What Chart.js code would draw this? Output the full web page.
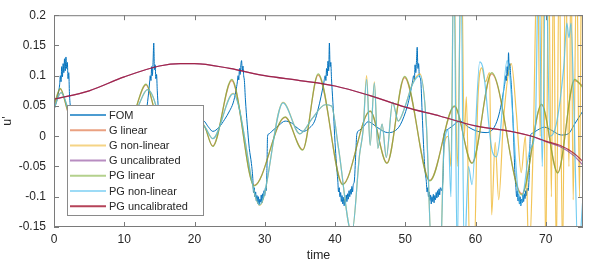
<!DOCTYPE html>
<html>
<head>
<meta charset="utf-8">
<script src="https://cdn.jsdelivr.net/npm/chart.js@4.4.0/dist/chart.umd.min.js"></script>
<style>
  html, body { margin: 0; padding: 0; background: #fff; }
</style>
</head>
<body>
<canvas id="chart" width="598" height="261"></canvas>
<script>
// axis ticks
const xTicks = [0, 10, 20, 30, 40, 50, 60, 70];
const yTicks = [0.2, 0.15, 0.1, 0.05, 0, -0.05, -0.1, -0.15];
const yTickLabels = ["0.2", "0.15", "0.1", "0.05", "0", "-0.05", "-0.1", "-0.15"];

const seriesNames = ["FOM", "G linear", "G non-linear", "G uncalibrated", "PG linear", "PG non-linear", "PG uncalibrated"];

// FOM (noisy full order model)
const fomTime = [
  0, 0.3, 0.6, 0.8, 0.9, 1.0, 1.1, 1.2, 1.3, 1.4, 1.5, 1.6, 1.7, 1.8, 1.9, 2.0, 2.1, 2.2, 2.35, 2.6,
  3.0, 3.5, 3.8, 4.0, 4.2, 4.4, 4.6, 4.8, 5.0, 5.5, 6.0, 7.0, 8.0, 9.0, 10.0, 11.0, 12.0, 12.7, 13.2,
  13.45, 13.6, 13.7, 13.8, 13.9, 14.0, 14.1, 14.2, 14.3, 14.4, 14.5, 14.6, 14.7, 14.85,
  15.1, 15.5, 15.9, 16.1, 16.3, 16.5, 16.7, 16.9, 17.1, 17.3, 17.6, 18.0, 18.5, 19.5, 20.5,
  21.2, 22.0, 22.6, 23.5, 24.3, 25.0, 25.5,
  25.9, 26.1, 26.2, 26.3, 26.4, 26.5, 26.6, 26.7, 26.8, 26.9, 27.0, 27.1, 27.25,
  27.5, 27.8, 28.1, 28.3, 28.4, 28.5, 28.6, 28.7, 28.8, 28.9, 29.0, 29.1, 29.2, 29.3, 29.4, 29.5, 29.6, 29.7, 29.8, 29.9, 30.0, 30.1, 30.2, 30.3, 30.4,
  30.6, 31.0, 32.0, 32.9, 33.8, 34.6, 35.5, 36.4, 37.1, 37.6, 38.0, 38.4,
  38.6, 38.7, 38.8, 38.9, 39.0, 39.1, 39.2, 39.3, 39.4, 39.5, 39.6,
  39.8, 40.0, 40.2, 40.4, 40.5, 40.6, 40.7, 40.8, 40.9, 41.0, 41.1, 41.2, 41.3, 41.4, 41.5, 41.6, 41.7, 41.8, 41.9, 42.0, 42.1, 42.2, 42.3, 42.4, 42.5, 42.6, 42.75, 42.95, 43.1,
  43.5, 44.0, 44.7, 45.4, 46.1, 47.5, 48.4, 49.3, 50.3, 50.7, 51.0,
  51.2, 51.3, 51.4, 51.5, 51.6, 51.7, 51.8, 51.9, 52.0, 52.2,
  52.4, 52.6, 52.8, 53.0, 53.1, 53.2, 53.3, 53.4, 53.5, 53.6, 53.7, 53.8, 53.9, 54.0, 54.1, 54.2, 54.3, 54.4, 54.5, 54.6, 54.7, 54.8, 54.9, 55.0, 55.2, 55.4, 55.55,
  55.8, 56.5, 57.8, 59.0, 60.3, 61.5, 62.5, 63.2, 63.7, 64.0, 64.2,
  64.3, 64.4, 64.5, 64.6, 64.7, 64.8, 64.9, 65.0, 65.1,
  65.25, 65.45, 65.6, 65.75, 65.85, 65.95, 66.05, 66.15, 66.25, 66.35, 66.45, 66.55, 66.65, 66.75, 66.85, 66.95, 67.05, 67.15, 67.25, 67.35, 67.5, 67.65, 67.8,
  68.1, 68.8, 69.8, 70.8, 72.2, 73.2, 74.1, 75.3
];
const fomValues = [
  0.044, 0.055, 0.07, 0.085, 0.1, 0.09, 0.115, 0.098, 0.12, 0.105, 0.128, 0.108, 0.131, 0.112, 0.122, 0.095, 0.105, 0.07, 0.045, 0.0,
  -0.05, -0.085, -0.095, -0.105, -0.095, -0.11, -0.098, -0.104, -0.09, -0.05, -0.01, 0.01, 0.005, 0.015, 0.01, 0.02, 0.025, 0.035, 0.047,
  0.07, 0.088, 0.1, 0.092, 0.115, 0.1, 0.122, 0.154, 0.11, 0.118, 0.095, 0.102, 0.075, 0.045,
  0.0, -0.05, -0.085, -0.1, -0.092, -0.108, -0.097, -0.11, -0.095, -0.102, -0.085, -0.05, -0.01, 0.012, 0.02,
  0.026, 0.015, 0.008, 0.015, 0.028, 0.042, 0.055,
  0.075, 0.09, 0.1, 0.093, 0.112, 0.102, 0.118, 0.125, 0.108, 0.116, 0.1, 0.092, 0.06,
  0.02, -0.02, -0.045, -0.07, -0.093, -0.085, -0.1, -0.092, -0.107, -0.098, -0.111, -0.1, -0.114, -0.104, -0.109, -0.097, -0.11, -0.095, -0.104, -0.09, -0.098, -0.085, -0.09, -0.06, 0.0,
  0.004, 0.008, 0.018, 0.025, 0.022, 0.014, 0.008, 0.014, 0.025, 0.045, 0.065, 0.088,
  0.1, 0.092, 0.112, 0.1, 0.124, 0.108, 0.154, 0.115, 0.122, 0.095, 0.075,
  0.035, -0.01, -0.045, -0.074, -0.092, -0.085, -0.1, -0.093, -0.108, -0.098, -0.112, -0.101, -0.115, -0.104, -0.11, -0.097, -0.108, -0.095, -0.104, -0.09, -0.1, -0.088, -0.096, -0.083, -0.092, -0.08, -0.074, -0.03, 0.003,
  0.01, 0.015, 0.024, 0.02, 0.014, 0.006, 0.008, 0.019, 0.05, 0.07, 0.088,
  0.1, 0.093, 0.118, 0.105, 0.125, 0.147, 0.112, 0.12, 0.1, 0.093,
  0.04, -0.014, -0.055, -0.075, -0.092, -0.085, -0.1, -0.092, -0.106, -0.097, -0.112, -0.1, -0.108, -0.096, -0.11, -0.098, -0.105, -0.093, -0.102, -0.09, -0.1, -0.087, -0.097, -0.085, -0.09, -0.06, 0.005,
  0.01, 0.015, 0.025, 0.015, 0.008, 0.006, 0.012, 0.03, 0.055, 0.075, 0.09,
  0.1, 0.092, 0.115, 0.1, 0.138, 0.11, 0.12, 0.1, 0.085,
  0.05, -0.01, -0.06, -0.085, -0.1, -0.09, -0.107, -0.096, -0.112, -0.1, -0.115, -0.104, -0.11, -0.097, -0.108, -0.095, -0.103, -0.09, -0.098, -0.086, -0.09, -0.06, 0.0,
  0.005, 0.01, 0.015, 0.01, 0.002, 0.004, 0.02, 0.042
];

// linear models
const linTime = [0, 0.9, 1.8, 3.5, 5.5, 8, 9.5, 10.5, 11.7, 13.1, 14.2, 16, 17.5, 19.5, 21.2, 22.6, 25.3, 28.5, 32.9, 35.4,
  37.6, 41.1, 45.0, 47.4, 49.9, 53.5, 57.0, 59.5, 62.3, 66.6, 69.4, 71.7, 74.1, 75.3];
const gLinear = [0.05, 0.078, 0.047, -0.03, -0.084, -0.02, 0.01, -0.004, 0.047, 0.085, 0.047, -0.04, -0.069, -0.01, 0.019, -0.016, 0.092, -0.081, 0.031, -0.022,
  0.101, -0.079, 0.041, -0.044, 0.097, -0.073, 0.049, -0.044, 0.103, -0.095, 0.052, -0.06, 0.092, 0.083];
const pgLinear = [0.052, 0.079, 0.048, -0.03, -0.085, -0.02, 0.01, -0.005, 0.048, 0.086, 0.048, -0.04, -0.07, -0.01, 0.02, -0.017, 0.094, -0.082, 0.032, -0.023,
  0.103, -0.08, 0.042, -0.045, 0.099, -0.074, 0.05, -0.045, 0.105, -0.097, 0.053, -0.061, 0.094, 0.08];

// non-linear models
const gNonLinTime = [0, 1.0, 2.0, 3.5, 5.0, 6.5, 8.0, 9.5, 11.9, 13.3, 14.6, 16.0, 17.3, 19.0, 21.2, 22.6, 25.5, 29.3, 32.6, 35.0,
  36.8, 38.6, 39.5, 40.5, 42.4, 43.5, 44.0, 44.5, 45.0, 45.6, 46.1, 46.7, 47.3, 48.2, 49.0, 50.0, 51.0, 52.1, 53.0, 53.8,
  55.0, 55.5, 56.1, 56.5, 56.9, 57.4, 58.0, 58.4, 58.7, 59.2, 59.8, 60.3, 60.9, 61.4, 62.0, 62.3, 62.8, 63.3, 64.0, 65.1,
  65.8, 66.5, 67.1, 67.6, 68.2, 68.8, 69.2, 69.6, 70.0, 70.4, 70.8, 71.1, 71.5, 71.9, 72.4, 72.8, 73.3, 73.6, 73.9, 74.4,
  74.8, 75.1, 75.3];
const gNonLinear = [0.045, 0.072, 0.044, -0.04, -0.1, -0.03, 0.01, 0.0, 0.048, 0.077, 0.046, -0.05, -0.1, -0.03, 0.018, -0.004, 0.071, -0.114, 0.056, 0.004,
  0.03, 0.052, 0.05, -0.02, -0.16, -0.03, 0.01, 0.1, -0.015, 0.09, -0.02, 0.02, -0.035, 0.056, 0.025, 0.05, 0.086, 0.103, 0.02, -0.2,
  -0.2, -0.02, 0.0, -0.05, 0.3, -0.05, 0.3, 0.0, 0.065, -0.2, -0.2, 0.05, 0.113, 0.09, 0.105, -0.13, -0.01, -0.105, 0.03, 0.12,
  0.04, -0.06, 0.0, -0.2, -0.02, 0.3, 0.0, 0.3, -0.2, 0.3, -0.1, 0.3, -0.2, 0.3, -0.2, 0.3, -0.05, 0.3, -0.105, 0.3,
  -0.1, 0.3, 0.1];
const pgNonLinTime = [0, 1.0, 2.0, 3.5, 5.0, 6.5, 8.0, 9.5, 11.9, 13.3, 14.6, 16.0, 17.3, 19.0, 21.2, 22.6, 25.5, 29.3, 32.6, 35.0,
  36.8, 38.6, 39.5, 40.5, 42.4, 43.5, 44.0, 44.5, 45.0, 45.6, 46.1, 46.7, 47.3, 48.2, 49.0, 50.0, 51.0, 52.1, 53.0, 53.8,
  55.0, 55.5, 56.1, 56.5, 56.9, 57.4, 57.9, 58.4, 59.0, 59.5, 60.6, 61.1, 62.3, 63.0, 63.4, 64.5, 66.4, 67.8, 68.5, 69.0,
  69.5, 70.0, 70.6, 71.5, 72.6, 73.0, 73.3, 73.6, 74.0, 74.6, 75.3];
const pgNonLinear = [0.045, 0.072, 0.044, -0.04, -0.1, -0.03, 0.01, 0.0, 0.048, 0.077, 0.046, -0.05, -0.1, -0.03, 0.018, -0.004, 0.07, -0.113, 0.055, 0.004,
  0.03, 0.052, 0.05, -0.02, -0.16, -0.03, 0.01, 0.094, -0.015, 0.088, -0.02, 0.02, -0.035, 0.056, 0.025, 0.05, 0.085, 0.1, 0.02, -0.2,
  -0.2, -0.02, 0.01, -0.1, 0.3, -0.2, 0.3, -0.2, -0.05, -0.08, 0.123, 0.11, -0.02, -0.034, -0.01, 0.125, -0.113, -0.02, 0.01, 0.3,
  -0.05, 0.3, 0.0, 0.02, 0.12, 0.187, 0.163, 0.187, 0.05, -0.2, -0.1];

// uncalibrated models
const uncalTime = [0, 5, 10, 15, 18, 20, 25, 30, 35, 40, 45, 50, 55, 60, 65, 68, 70, 72, 74, 75.3];
const gUncal = [0.061, 0.075, 0.098, 0.116, 0.12, 0.12, 0.112, 0.1, 0.092, 0.083, 0.067, 0.048, 0.033, 0.017, 0.008, 0.0, -0.009, -0.017, -0.032, -0.048];
const pgUncal = [0.061, 0.075, 0.098, 0.116, 0.12, 0.12, 0.112, 0.1, 0.092, 0.083, 0.067, 0.048, 0.033, 0.017, 0.008, 0.0, -0.008, -0.015, -0.028, -0.042];

const lineColors = ["#0072BD", "rgba(217,83,25,0.6)", "rgba(237,177,32,0.75)", "rgba(126,47,142,0.7)",
  "rgba(119,172,48,0.7)", "rgba(77,190,238,0.8)", "rgba(162,20,47,0.8)"];
const legendColors = ["rgba(0,114,189,0.7)", "rgba(217,83,25,0.55)", "rgba(237,177,32,0.55)", "rgba(126,47,142,0.55)",
  "rgba(119,172,48,0.55)", "rgba(77,190,238,0.55)", "rgba(162,20,47,0.8)"];

function toPoints(ts, vs) {
  return ts.map((t, i) => ({ x: t, y: vs[i] }));
}

const seriesData = [
  toPoints(fomTime, fomValues),
  toPoints(linTime, gLinear),
  toPoints(gNonLinTime, gNonLinear),
  toPoints(uncalTime, gUncal),
  toPoints(linTime, pgLinear),
  toPoints(pgNonLinTime, pgNonLinear),
  toPoints(uncalTime, pgUncal)
];

const textColor = "#262626";
const fontFamily = "'Liberation Sans', Arial, Helvetica, sans-serif";

// frame with inward ticks + legend box inside the axes
const framePlugin = {
  id: "frameLegend",
  afterDatasetsDraw(chart) {
    const { ctx, chartArea: a, scales } = chart;
    const x = scales.x, y = scales.y;
    ctx.save();
    ctx.strokeStyle = "#7a7a7a";
    ctx.lineWidth = 1;
    ctx.strokeRect(a.left + 0.5, a.top + 0.5, a.right - a.left - 1, a.bottom - a.top - 1);
    ctx.beginPath();
    xTicks.forEach(v => {
      const px = Math.round(x.getPixelForValue(v)) + 0.5;
      ctx.moveTo(px, a.bottom); ctx.lineTo(px, a.bottom - 5);
      ctx.moveTo(px, a.top); ctx.lineTo(px, a.top + 5);
    });
    yTicks.forEach(v => {
      const py = Math.round(y.getPixelForValue(v)) + 0.5;
      ctx.moveTo(a.left, py); ctx.lineTo(a.left + 5, py);
      ctx.moveTo(a.right, py); ctx.lineTo(a.right - 5, py);
    });
    ctx.stroke();

    // legend
    const lx = 67, ly = 105, lw = 136, lh = 110;
    ctx.fillStyle = "#fff";
    ctx.fillRect(lx, ly, lw, lh);
    ctx.strokeStyle = "#8a8a8a";
    ctx.strokeRect(lx + 0.5, ly + 0.5, lw, lh);
    ctx.font = "11px " + fontFamily;
    ctx.textBaseline = "middle";
    ctx.textAlign = "left";
    seriesNames.forEach((name, i) => {
      const ry = ly + 10 + i * 15.2;
      ctx.strokeStyle = legendColors[i];
      ctx.lineWidth = 2;
      ctx.beginPath();
      ctx.moveTo(lx + 3, ry);
      ctx.lineTo(lx + 39, ry);
      ctx.stroke();
      ctx.fillStyle = textColor;
      ctx.fillText(name, lx + 42, ry + 0.5);
    });
    ctx.restore();
  }
};

new Chart(document.getElementById("chart"), {
  type: "line",
  data: {
    datasets: seriesNames.map((name, i) => ({
      label: name,
      data: seriesData[i],
      borderColor: lineColors[i],
      borderWidth: i === 0 ? 1 : 1.2,
      pointRadius: 0,
      fill: false,
      cubicInterpolationMode: "monotone",
      order: seriesNames.length - i
    }))
  },
  options: {
    responsive: false,
    animation: false,
    layout: { padding: { left: 0, right: 15, top: 12, bottom: 0 } },
    plugins: {
      legend: { display: false },
      tooltip: { enabled: false }
    },
    scales: {
      x: {
        type: "linear",
        min: 0,
        max: 75.3,
        afterBuildTicks: s => { s.ticks = xTicks.map(v => ({ value: v })); },
        afterFit: s => { s.height = 34; },
        grid: { display: false, drawTicks: false },
        border: { display: false },
        ticks: {
          color: textColor,
          font: { family: fontFamily, size: 12 },
          padding: 5,
          maxRotation: 0,
          autoSkip: false
        },
        title: {
          display: true,
          text: "time",
          color: textColor,
          font: { family: fontFamily, size: 12.5 },
          padding: { top: 0, bottom: -2 }
        }
      },
      y: {
        type: "linear",
        min: -0.15,
        max: 0.2,
        afterBuildTicks: s => { s.ticks = yTicks.map(v => ({ value: v })); },
        afterFit: s => { s.width = 54; },
        grid: { display: false, drawTicks: false },
        border: { display: false },
        ticks: {
          color: textColor,
          font: { family: fontFamily, size: 12 },
          padding: 8,
          autoSkip: false,
          callback: (v, i) => yTickLabels[i]
        },
        title: {
          display: true,
          text: "u'",
          color: textColor,
          font: { family: fontFamily, size: 12.5 },
          padding: { top: 0, bottom: 0 }
        }
      }
    }
  },
  plugins: [framePlugin]
});
</script>
</body>
</html>
